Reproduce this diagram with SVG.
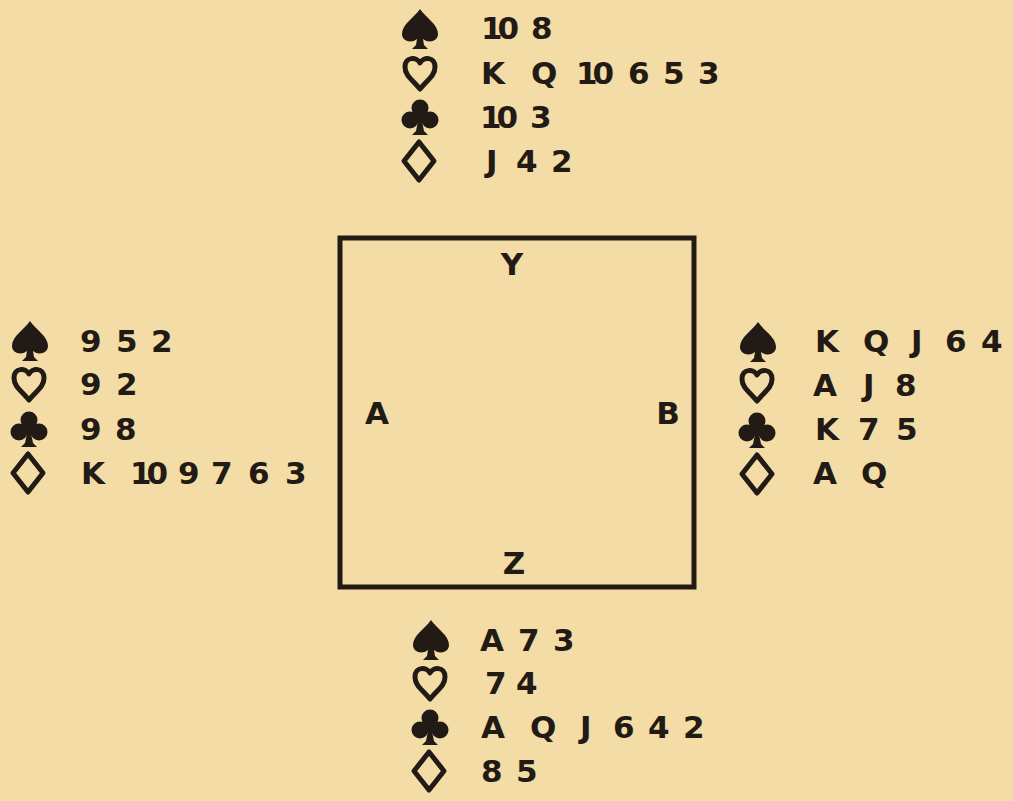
<svg xmlns="http://www.w3.org/2000/svg" width="1013" height="801" viewBox="0 0 1013 801">
  <style>
    .t { font-family: "DejaVu Sans", "Liberation Sans", sans-serif; font-weight: bold; font-size: 31px; fill: #221a14; }
    .ten { letter-spacing: -5px; }
    .solid { fill: #221a14; stroke: none; }
    .open { fill: none; stroke: #221a14; stroke-width: 5; stroke-linejoin: round; }
  </style>
  <defs>
    <!-- suit pips, centred on the origin -->
    <path id="spade" class="solid" d="M0,-20 C6,-11 18,-5 18,5 C18,12 9,15 3,10 L4,16 L8,20 L-8,20 L-4,16 L-3,10 C-9,15 -18,12 -18,5 C-18,-5 -6,-11 0,-20 Z"/>
    <path id="heart" class="open" d="M0,-10 C-3,-16 -15,-17 -15,-6 C-15,3 -7,7 0,16 C7,7 15,3 15,-6 C15,-17 3,-16 0,-10 Z"/>
    <g id="club" class="solid">
      <circle cx="0" cy="-9" r="8.5"/>
      <circle cx="-10" cy="3" r="8.5"/>
      <circle cx="10" cy="3" r="8.5"/>
      <rect x="-5" y="-6" width="10" height="12"/>
      <path d="M-2,4 L-4,14 L-8,18 L8,18 L4,14 L2,4 Z"/>
    </g>
    <path id="diamond" class="open" stroke-linejoin="miter" d="M0,-19 L15,0 L0,19 L-15,0 Z"/>
  </defs>

  <rect width="1013" height="801" fill="#f3dca6"/>

  <!-- table -->
  <g id="table">
    <rect x="340" y="238" width="354" height="349" fill="none" stroke="#221a14" stroke-width="5"/>
    <text class="t" x="512" y="275" text-anchor="middle">Y</text>
    <text class="t" x="377" y="424" text-anchor="middle">A</text>
    <text class="t" x="668" y="424" text-anchor="middle">B</text>
    <text class="t" x="514" y="574" text-anchor="middle">Z</text>
  </g>

  <!-- Y (north) -->
  <g id="hand-y">
    <use href="#spade" x="420" y="29"/>
    <use href="#heart" x="420" y="73"/>
    <use href="#club" x="420" y="117"/>
    <use href="#diamond" x="419" y="161"/>
    <text class="t" y="39"><tspan class="ten" x="481">10</tspan><tspan x="531">8</tspan></text>
    <text class="t" y="84"><tspan x="481">K</tspan><tspan x="531">Q</tspan><tspan class="ten" x="576">10</tspan><tspan x="628">6</tspan><tspan x="663">5</tspan><tspan x="698">3</tspan></text>
    <text class="t" y="128"><tspan class="ten" x="480">10</tspan><tspan x="530">3</tspan></text>
    <text class="t" y="172"><tspan x="486">J</tspan><tspan x="516">4</tspan><tspan x="551">2</tspan></text>
  </g>

  <!-- A (west) -->
  <g id="hand-a">
    <use href="#spade" x="30" y="341"/>
    <use href="#heart" x="29" y="384"/>
    <use href="#club" x="29" y="429"/>
    <use href="#diamond" x="28" y="473"/>
    <text class="t" y="352"><tspan x="80">9</tspan><tspan x="116">5</tspan><tspan x="151">2</tspan></text>
    <text class="t" y="395"><tspan x="80">9</tspan><tspan x="116">2</tspan></text>
    <text class="t" y="440"><tspan x="80">9</tspan><tspan x="115">8</tspan></text>
    <text class="t" y="484"><tspan x="81">K</tspan><tspan class="ten" x="130">10</tspan><tspan x="178">9</tspan><tspan x="211">7</tspan><tspan x="248">6</tspan><tspan x="285">3</tspan></text>
  </g>

  <!-- B (east) -->
  <g id="hand-b">
    <use href="#spade" x="758" y="342"/>
    <use href="#heart" x="757" y="385"/>
    <use href="#club" x="757" y="430"/>
    <use href="#diamond" x="757" y="474"/>
    <text class="t" y="352"><tspan x="815">K</tspan><tspan x="863">Q</tspan><tspan x="911">J</tspan><tspan x="945">6</tspan><tspan x="981">4</tspan></text>
    <text class="t" y="396"><tspan x="813">A</tspan><tspan x="863">J</tspan><tspan x="895">8</tspan></text>
    <text class="t" y="440"><tspan x="815">K</tspan><tspan x="858">7</tspan><tspan x="896">5</tspan></text>
    <text class="t" y="484"><tspan x="813">A</tspan><tspan x="861">Q</tspan></text>
  </g>

  <!-- Z (south) -->
  <g id="hand-z">
    <use href="#spade" x="431" y="640"/>
    <use href="#heart" x="430" y="683"/>
    <use href="#club" x="430" y="727"/>
    <use href="#diamond" x="429" y="771"/>
    <text class="t" y="651"><tspan x="480">A</tspan><tspan x="518">7</tspan><tspan x="553">3</tspan></text>
    <text class="t" y="694"><tspan x="485">7</tspan><tspan x="516">4</tspan></text>
    <text class="t" y="738"><tspan x="481">A</tspan><tspan x="530">Q</tspan><tspan x="580">J</tspan><tspan x="613">6</tspan><tspan x="648">4</tspan><tspan x="683">2</tspan></text>
    <text class="t" y="782"><tspan x="481">8</tspan><tspan x="516">5</tspan></text>
  </g>
</svg>
